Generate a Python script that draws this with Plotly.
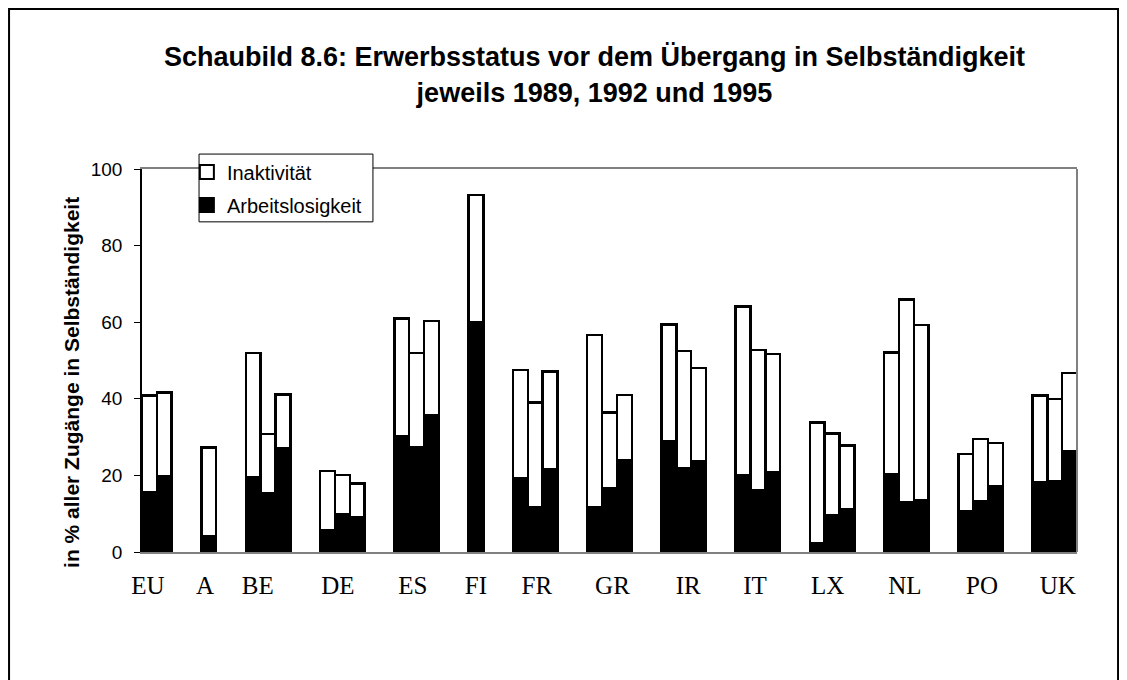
import plotly.graph_objects as go

# ---- data ----
countries = ["EU", "A", "BE", "DE", "ES", "FI", "FR", "GR", "IR", "IT", "LX", "NL", "PO", "UK"]
years = ["1989", "1992", "1995"]

# Arbeitslosigkeit (black part), per year
arbeitslos_1989 = [None, None, 19.6, 5.8, 30.2, None, 19.2, 11.6, 28.9, 20.1, 2.3, 20.3, 10.6, 18.3]
arbeitslos_1992 = [15.5, None, 15.4, 9.9, 27.3, None, 11.6, 16.6, 21.9, 16.0, 9.7, 13.1, 13.2, 18.4]
arbeitslos_1995 = [19.8, 4.0, 27.0, 9.0, 35.6, 59.9, 21.6, 24.0, 23.6, 20.8, 11.2, 13.6, 17.1, 26.2]

# Inaktivität (white part, stacked on top), per year
inaktiv_1989 = [None, None, 32.4, 15.4, 30.8, None, 28.3, 45.1, 30.5, 44.0, 31.5, 31.8, 15.0, 22.5]
inaktiv_1992 = [25.3, None, 15.4, 10.2, 24.7, None, 27.4, 19.8, 30.6, 36.8, 21.3, 52.8, 16.3, 21.6]
inaktiv_1995 = [21.9, 23.3, 14.1, 8.9, 24.7, 33.3, 25.5, 17.0, 24.5, 30.9, 16.6, 45.7, 11.4, 20.5]

y_ticks = [0, 20, 40, 60, 80, 100]

# ---- layout helpers (positions, not data) ----
group_start = [-1, 2, 7, 12, 17, 20, 25, 30, 35, 40, 45, 50, 55, 60]
label_pos = [-0.1, 3.75, 7.3, 12.7, 17.75, 22.0, 26.1, 31.2, 36.3, 40.8, 45.7, 50.9, 56.1, 61.2]

arb = [arbeitslos_1989, arbeitslos_1992, arbeitslos_1995]
ina = [inaktiv_1989, inaktiv_1992, inaktiv_1995]

xs, arb_vals, ina_vals = [], [], []
for gi, c in enumerate(countries):
    for j in range(3):
        if arb[j][gi] is None:
            continue
        xs.append(group_start[gi] + j)
        arb_vals.append(arb[j][gi])
        ina_vals.append(ina[j][gi])

SANS = "Liberation Sans, Arial, sans-serif"
SERIF = "Liberation Serif, Times New Roman, serif"

fig = go.Figure()
fig.add_trace(go.Bar(
    x=xs, y=arb_vals, name="Arbeitslosigkeit", width=1, showlegend=False,
    marker=dict(color="black", line=dict(color="black", width=2.5)),
))
fig.add_trace(go.Bar(
    x=xs, y=ina_vals, name="Inaktivität", width=1, showlegend=False,
    marker=dict(color="white", line=dict(color="black", width=2.5)),
))
# legend entries
fig.add_trace(go.Scatter(
    x=[None], y=[None], mode="markers", name="Inaktivität", legend="legend",
    marker=dict(symbol="square", size=14, color="white", line=dict(color="black", width=2)),
))
fig.add_trace(go.Scatter(
    x=[None], y=[None], mode="markers", name="Arbeitslosigkeit", legend="legend2",
    marker=dict(symbol="square", size=14, color="black", line=dict(color="black", width=2)),
))

leg_common = dict(
    x=0.048, xanchor="left", yanchor="middle",
    bgcolor="rgba(0,0,0,0)", borderwidth=0,
    font=dict(family=SANS, size=20, color="black"), itemwidth=30,
)

fig.update_layout(
    width=1127, height=680,
    barmode="stack",
    paper_bgcolor="white", plot_bgcolor="white",
    margin=dict(l=134, r=58, t=161, b=136),
    font=dict(family=SANS, color="black", size=19),
    title=dict(
        text="<b>Schaubild 8.6: Erwerbsstatus vor dem Übergang in Selbständigkeit<br>jeweils 1989, 1992 und 1995</b>",
        font=dict(family=SANS, size=27, color="black"),
        x=0.5204, xanchor="center", xref="container",
        y=0.914, yanchor="top", yref="container",
    ),
    showlegend=True,
    legend=dict(y=0.992, **leg_common),
    legend2=dict(y=0.906, **leg_common),
    xaxis=dict(
        range=[-0.5, 62.5],
        tickmode="array", tickvals=label_pos, ticktext=countries,
        tickfont=dict(family=SERIF, size=25, color="black"),
        ticks="", ticklabelstandoff=10,
        showgrid=False, zeroline=False,
        showline=True, linecolor="#808080", linewidth=2, mirror=True,
    ),
    yaxis=dict(
        range=[0, 100],
        tickmode="array", tickvals=y_ticks,
        tickfont=dict(family=SANS, size=19, color="black"),
        ticks="outside", ticklen=6, tickcolor="black", tickwidth=1,
        ticklabelstandoff=8,
        showgrid=False, zeroline=False,
        showline=True, linecolor="black", linewidth=1.5,
    ),
    shapes=[
        dict(type="line", xref="paper", yref="paper", x0=1, x1=1, y0=0, y1=1,
             line=dict(color="#808080", width=2)),
        dict(type="rect", xref="paper", yref="paper",
             x0=-0.1422, x1=1.0439, y0=-0.45, y1=1.4178,
             line=dict(color="black", width=2), fillcolor="rgba(0,0,0,0)", layer="below"),
        dict(type="rect", xref="paper", yref="paper",
             x0=0.061, x1=0.247, y0=0.862, y1=1.039,
             line=dict(color="black", width=1), fillcolor="white", layer="above"),
    ],
    annotations=[
        dict(text="<b>in % aller Zugänge in Selbständigkeit</b>", textangle=-90,
             xref="paper", yref="paper", x=-0.0749, y=0.444,
             xanchor="center", yanchor="middle", showarrow=False,
             font=dict(family=SANS, size=21, color="black")),
    ],
)

fig.write_html("out.html")
